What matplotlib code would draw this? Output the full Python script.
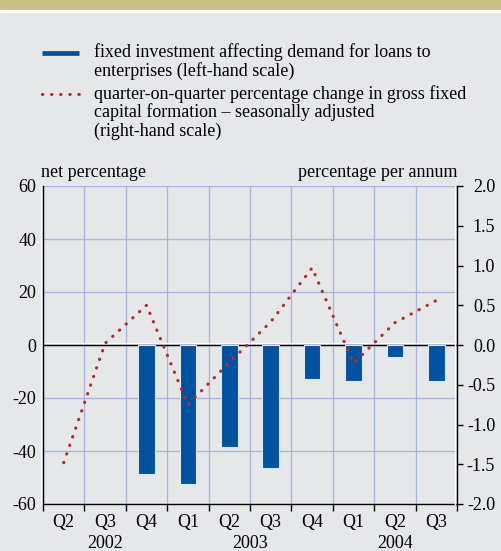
import numpy as np
import matplotlib.pyplot as plt
import matplotlib.patheffects as pe
import matplotlib.transforms as mtransforms
from matplotlib.lines import Line2D
from matplotlib.patches import Rectangle
from matplotlib.legend_handler import HandlerLine2D

# data
quarters = ['Q2', 'Q3', 'Q4', 'Q1', 'Q2', 'Q3', 'Q4', 'Q1', 'Q2', 'Q3']
quarter_years = ['2002', '2002', '2002', '2003', '2003', '2003', '2003', '2004', '2004', '2004']
years = ['2002', '2003', '2004']
# net percentage (left-hand scale)
loan_demand = [np.nan, np.nan, -48.5, -52.5, -38.5, -46.3, -13.0, -13.7, -4.4, -13.7]
# quarter-on-quarter % change in GFCF, s.a. (right-hand scale)
gfcf_change = [-1.48, 0.02, 0.50, -0.75, -0.22, 0.29, 0.97, -0.23, 0.28, 0.56]

label_bars = 'fixed investment affecting demand for loans to\nenterprises (left-hand scale)'
label_line = ('quarter-on-quarter percentage change in gross fixed\n'
              'capital formation \u2013 seasonally adjusted\n(right-hand scale)')

BG = '#e6e7e9'
TAN = '#cbbf88'
BLUE = '#00519e'
RED = '#b2302c'
GRID = '#a9b5dd'

plt.rcParams['font.family'] = ['Liberation Serif', 'DejaVu Serif']
plt.rcParams['font.size'] = 13
plt.rcParams['axes.unicode_minus'] = False


class TopLineHandler(HandlerLine2D):
    """legend handle lined up with the first text line instead of the middle"""

    def __init__(self, n_lines, line_step=13.0, **kw):
        super().__init__(**kw)
        self.lift = (n_lines - 1) * line_step

    def create_artists(self, legend, orig_handle, xdescent, ydescent, width, height, fontsize, trans):
        return super().create_artists(legend, orig_handle, xdescent, ydescent - self.lift,
                                      width, height, fontsize, trans)


fig = plt.figure(figsize=(5.01, 5.51), dpi=100, facecolor=BG)

# tan band on top with thin white rule
fig.patches.append(Rectangle((0, 1 - 10 / 551), 1, 10 / 551, transform=fig.transFigure,
                             color=TAN, zorder=0))
fig.patches.append(Rectangle((0, 1 - 11.5 / 551), 1, 1.5 / 551, transform=fig.transFigure,
                             color='white', zorder=0))

ax = fig.add_axes([43 / 501, 47 / 551, 414 / 501, 318 / 551])
ax.set_facecolor(BG)
x = np.arange(len(quarters))

ax.bar(x, loan_demand, width=0.4, color=BLUE, edgecolor='#dde5ef', linewidth=0.8, zorder=3)

ax.set_xlim(-0.5, len(quarters) - 0.5)
ax.set_ylim(-60, 60)
ax.set_yticks(np.arange(-60, 61, 20))

# quarter boundaries as major ticks (marks + grid), centers as minor ticks (labels)
ax.set_xticks(np.arange(-0.5, len(quarters), 1))
ax.set_xticklabels([])
ax.set_xticks(x, minor=True)
ax.set_xticklabels(quarters, minor=True)
ax.tick_params(axis='x', which='major', direction='out', length=5, width=1, color='black')
ax.tick_params(axis='x', which='minor', length=0, pad=7)
ax.tick_params(axis='y', length=0, pad=5)

ax.set_axisbelow(True)
ax.grid(True, which='major', color=GRID, linewidth=1)

shadow_up = [pe.SimpleLineShadow(offset=(0, 1.1), shadow_color='white', alpha=1), pe.Normal()]
ax.axhline(0, color='black', linewidth=1, zorder=2, path_effects=shadow_up)

ax.spines['top'].set_visible(False)
ax.spines['right'].set_visible(False)
ax.spines['left'].set_linewidth(1)
ax.spines['bottom'].set_linewidth(1)
ax.spines['left'].set_path_effects([pe.SimpleLineShadow(offset=(-1.1, 0), shadow_color='white', alpha=1),
                                    pe.Normal()])
ax.spines['bottom'].set_path_effects([pe.SimpleLineShadow(offset=(-1.1, 0), shadow_color='white', alpha=1),
                                      pe.Normal()])

# right-hand scale
ax2 = ax.twinx()
ax2.patch.set_visible(False)
line, = ax2.plot(x, gfcf_change, color=RED, linewidth=2.3, linestyle=(0, (0.1, 2.75)),
                 dash_capstyle='round', zorder=4)
ax2.set_ylim(-2, 2)
ax2.set_yticks(np.arange(-2, 2.01, 0.5))
ax2.set_yticklabels(['%.1f' % v for v in np.arange(-2, 2.01, 0.5)], ha='right')
ax2.tick_params(axis='y', direction='out', length=4, width=1, pad=23.5)
for side in ['top', 'left', 'bottom']:
    ax2.spines[side].set_visible(False)
ax2.spines['right'].set_linewidth(1)
ax2.spines['right'].set_path_effects([pe.SimpleLineShadow(offset=(-1.1, 0), shadow_color='white', alpha=1),
                                      pe.Normal()])

# year labels centred under their quarters
trans = mtransforms.blended_transform_factory(ax.transData, ax.transAxes)
for yr in years:
    idx = [i for i, q in enumerate(quarter_years) if q == yr]
    ax.annotate(yr, xy=(np.mean(idx), 0), xycoords=trans, xytext=(0, -28.5),
                textcoords='offset points', ha='center', va='center')

# axis titles
ax.annotate('net percentage', xy=(0, 1), xycoords='axes fraction', xytext=(-1.5, 6.5),
            textcoords='offset points', ha='left', va='baseline')
ax.annotate('percentage per annum', xy=(1, 1), xycoords='axes fraction', xytext=(0, 6.5),
            textcoords='offset points', ha='right', va='baseline')

# legend
bar_handle = Line2D([], [], color=BLUE, linewidth=3.4, solid_capstyle='butt')
leg = fig.legend([bar_handle, line], [label_bars, label_line], loc='upper left',
                 bbox_to_anchor=(42 / 501, 1 - 43 / 551), frameon=False,
                 handlelength=2.05, handletextpad=0.83, labelspacing=0.27,
                 borderpad=0, borderaxespad=0,
                 handler_map={bar_handle: TopLineHandler(2), line: TopLineHandler(3)})
for t in leg.get_texts():
    t.set_linespacing(1.07)

plt.savefig('out.png', dpi=100, facecolor=BG)
